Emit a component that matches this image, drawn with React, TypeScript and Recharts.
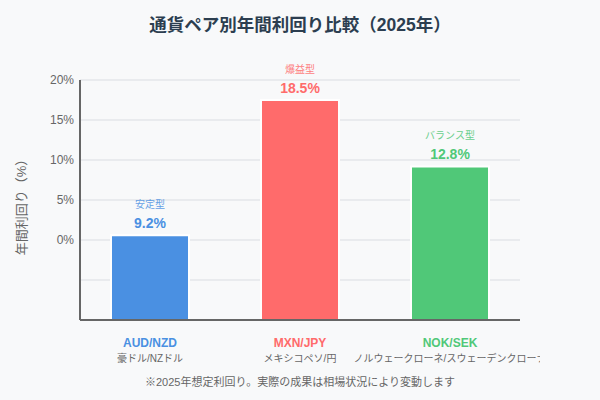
import React from 'react';
import { BarChart, Bar, XAxis, YAxis, CartesianGrid, Cell, LabelList } from 'recharts';

const pairs = ['AUD/NZD', 'MXN/JPY', 'NOK/SEK'];
const pairNames = ['豪ドル/NZドル', 'メキシコペソ/円', 'ノルウェークローネ/スウェーデンクローナ'];
const styles = ['安定型', '爆益型', 'バランス型'];
const yieldLabels = [9.2, 18.5, 12.8];
// bar tops as drawn on the axis scale
const barTops = [0.6, 17.5, 9.2];
const colors = ['#4A90E2', '#FF6B6B', '#50C878'];
const yTicks = [-10, -5, 0, 5, 10, 15, 20];
const gridValues = [-5, 0, 5, 10, 15, 20];

const FONT = "'Liberation Sans', Arial, 'Noto Sans CJK JP', sans-serif";

const data = pairs.map((p, i) => ({
  pair: p,
  name: pairNames[i],
  kind: styles[i],
  label: yieldLabels[i],
  range: [-10, barTops[i]],
  color: colors[i],
}));

const PairTick = (props: any) => {
  const { x, y, payload, index } = props;
  return (
    <g>
      <defs>
        <clipPath id={`tick-clip-${index}`}>
          <rect x={0} y={0} width={540} height={400} />
        </clipPath>
      </defs>
      <text x={x} y={y + 19} textAnchor="middle" fontSize={12} fontWeight="bold" fill={colors[index]} fontFamily={FONT}>
        {payload.value}
      </text>
      <text x={x} y={y + 34} textAnchor="middle" fontSize={10} fill="#666" fontFamily={FONT} clipPath={`url(#tick-clip-${index})`}>
        {pairNames[index]}
      </text>
    </g>
  );
};

const TopLabel = (props: any) => {
  const { x, y, width, index } = props;
  const cx = x + width / 2;
  const c = colors[index];
  return (
    <g>
      <text x={cx} y={y - 27} textAnchor="middle" fontSize={10} fill={c} opacity={0.85} fontFamily={FONT}>
        {styles[index]}
      </text>
      <text x={cx} y={y - 7} textAnchor="middle" fontSize={14} fontWeight="bold" fill={c} fontFamily={FONT}>
        {`${yieldLabels[index]}%`}
      </text>
    </g>
  );
};

export default function App() {
  return (
    <div style={{ position: 'absolute', left: 0, top: 0, width: 600, height: 400, background: '#f8f9fa', fontFamily: FONT }}>
      <div style={{ position: 'absolute', top: 11, left: 0, width: 600, textAlign: 'center', fontSize: 17.5, fontWeight: 'bold', color: '#2c3e50' }}>
        通貨ペア別年間利回り比較（2025年）
      </div>
      <div
        style={{
          position: 'absolute', left: 20, top: 204, transform: 'translate(-50%,-50%) rotate(-90deg)',
          fontSize: 13, color: '#666', whiteSpace: 'nowrap',
        }}
      >
        年間利回り（%）
      </div>
      <div style={{ position: 'absolute', left: 0, top: 0 }}>
        <BarChart width={600} height={400} data={data} margin={{ top: 80, right: 80, bottom: 20, left: 20 }}>
          <CartesianGrid vertical={false} stroke="#e9ebee" strokeWidth={2} horizontalValues={gridValues} />
          <XAxis
            dataKey="pair"
            height={60}
            padding={{ left: -5, right: -5 }}
            tickLine={false}
            axisLine={{ stroke: '#666', strokeWidth: 2 }}
            tick={<PairTick />}
            interval={0}
          />
          <YAxis
            width={60}
            domain={[-10, 20]}
            ticks={yTicks}
            interval={0}
            tickLine={false}
            axisLine={{ stroke: '#666', strokeWidth: 2 }}
            tick={{ fontSize: 12, fill: '#666', fontFamily: FONT, dx: 2 }}
            tickFormatter={(v: number) => (v < 0 ? '' : `${v}%`)}
          />
          <Bar dataKey="range" barSize={78} stroke="#fff" strokeWidth={2} isAnimationActive={false}>
            {data.map((d, i) => (
              <Cell key={`cell-${i}`} fill={d.color} />
            ))}
            <LabelList dataKey="label" content={<TopLabel />} />
          </Bar>
        </BarChart>
      </div>
      <div style={{ position: 'absolute', top: 373, left: 0, width: 600, textAlign: 'center', fontSize: 11, color: '#666' }}>
        ※2025年想定利回り。実際の成果は相場状況により変動します
      </div>
    </div>
  );
}
